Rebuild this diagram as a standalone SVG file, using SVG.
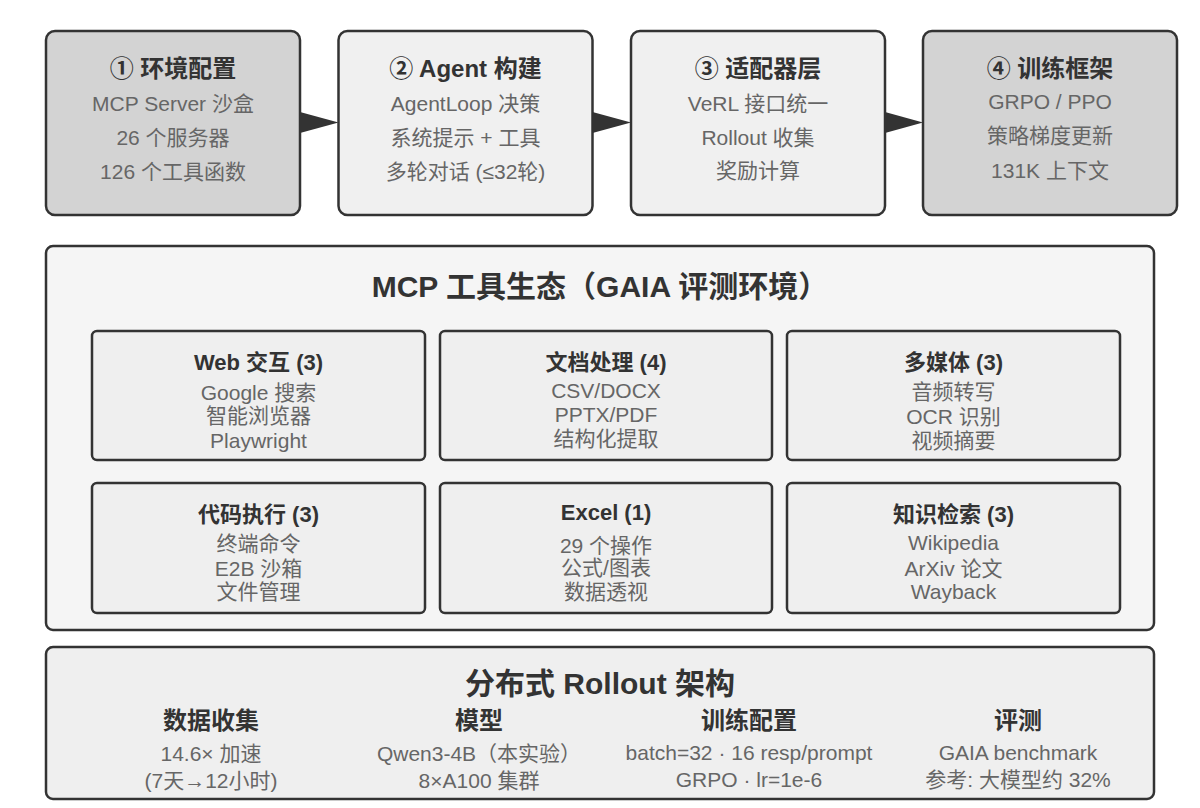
<svg xmlns="http://www.w3.org/2000/svg" width="1200" height="808" viewBox="0 0 1200 808">
<style>
text{font-family:"Liberation Sans","Noto Sans CJK SC",sans-serif;text-anchor:middle;dominant-baseline:central}
.t{font-size:24px;font-weight:bold;fill:#333}
.b{font-size:21px;fill:#666}
.st{font-size:22px;font-weight:bold;fill:#333}
.big{font-size:30px;font-weight:bold;fill:#333}
.hd{font-size:24px;font-weight:bold;fill:#333}
.step{stroke:#333;stroke-width:2.5}
.dark{fill:#d3d3d3}
.light{fill:#f0f0f0}
.cat{fill:#efefef;stroke:#333;stroke-width:2.5}
</style>
<rect width="1200" height="808" fill="#ffffff"/>
<g id="step1"><rect class="step dark" x="46" y="31" width="254" height="184" rx="9"/>
<text class="t" x="173" y="68">① 环境配置</text>
<text class="b" x="173" y="103">MCP Server 沙盒</text>
<text class="b" x="173" y="137">26 个服务器</text>
<text class="b" x="173" y="171">126 个工具函数</text></g>
<g id="step2"><rect class="step light" x="338.5" y="31" width="254" height="184" rx="9"/>
<text class="t" x="465.5" y="68">② Agent 构建</text>
<text class="b" x="465.5" y="103">AgentLoop 决策</text>
<text class="b" x="465.5" y="137">系统提示 + 工具</text>
<text class="b" x="465.5" y="171">多轮对话 (≤32轮)</text></g>
<g id="step3"><rect class="step light" x="631" y="31" width="254" height="184" rx="9"/>
<text class="t" x="758" y="68">③ 适配器层</text>
<text class="b" x="758" y="103">VeRL 接口统一</text>
<text class="b" x="758" y="137">Rollout 收集</text>
<text class="b" x="758" y="170">奖励计算</text></g>
<g id="step4"><rect class="step dark" x="923" y="31" width="254" height="184" rx="9"/>
<text class="t" x="1050" y="68">④ 训练框架</text>
<text class="b" x="1050" y="101">GRPO / PPO</text>
<text class="b" x="1050" y="135">策略梯度更新</text>
<text class="b" x="1050" y="170">131K 上下文</text></g>
<g id="connectors" fill="#333">
<path d="M300,112 L338.5,122.5 L300,133 Z"/>
<path d="M592.5,112 L631,122.5 L592.5,133 Z"/>
<path d="M885,112 L923,122.5 L885,133 Z"/>
</g>
<g id="ecosystem"><rect x="46" y="246" width="1108" height="384" rx="7" fill="#f5f5f5" stroke="#333" stroke-width="2.5"/>
<text class="big" x="600" y="286">MCP 工具生态（GAIA 评测环境）</text></g>
<g id="web"><rect class="cat" x="92" y="331" width="333" height="129" rx="5"/>
<text class="st" x="258.5" y="362">Web 交互 (3)</text>
<text class="b" x="258.5" y="392">Google 搜索</text>
<text class="b" x="258.5" y="415">智能浏览器</text>
<text class="b" x="258.5" y="440">Playwright</text></g>
<g id="doc"><rect class="cat" x="440" y="331" width="332" height="129" rx="5"/>
<text class="st" x="606" y="362">文档处理 (4)</text>
<text class="b" x="606" y="390">CSV/DOCX</text>
<text class="b" x="606" y="414">PPTX/PDF</text>
<text class="b" x="606" y="438">结构化提取</text></g>
<g id="media"><rect class="cat" x="787" y="331" width="333" height="129" rx="5"/>
<text class="st" x="953.5" y="362">多媒体 (3)</text>
<text class="b" x="953.5" y="391">音频转写</text>
<text class="b" x="953.5" y="416">OCR 识别</text>
<text class="b" x="953.5" y="440">视频摘要</text></g>
<g id="code"><rect class="cat" x="92" y="483" width="333" height="130" rx="5"/>
<text class="st" x="258.5" y="514">代码执行 (3)</text>
<text class="b" x="258.5" y="543">终端命令</text>
<text class="b" x="258.5" y="568">E2B 沙箱</text>
<text class="b" x="258.5" y="591">文件管理</text></g>
<g id="excel"><rect class="cat" x="440" y="483" width="332" height="130" rx="5"/>
<text class="st" x="606" y="512">Excel (1)</text>
<text class="b" x="606" y="545">29 个操作</text>
<text class="b" x="606" y="567">公式/图表</text>
<text class="b" x="606" y="591">数据透视</text></g>
<g id="knowledge"><rect class="cat" x="787" y="483" width="333" height="130" rx="5"/>
<text class="st" x="953.5" y="514">知识检索 (3)</text>
<text class="b" x="953.5" y="542">Wikipedia</text>
<text class="b" x="953.5" y="568">ArXiv 论文</text>
<text class="b" x="953.5" y="591">Wayback</text></g>
<g id="rollout"><rect x="46" y="647" width="1108" height="152" rx="7" fill="#efefef" stroke="#333" stroke-width="2.5"/>
<text class="big" x="600" y="683">分布式 Rollout 架构</text>
<text class="hd" x="211" y="720">数据收集</text>
<text class="b" x="211" y="753">14.6× 加速</text>
<text class="b" x="211" y="780">(7天→12小时)</text>
<text class="hd" x="479" y="720">模型</text>
<text class="b" x="479" y="753">Qwen3-4B（本实验）</text>
<text class="b" x="479" y="780">8×A100 集群</text>
<text class="hd" x="749" y="720">训练配置</text>
<text class="b" x="749" y="752">batch=32 · 16 resp/prompt</text>
<text class="b" x="749" y="779">GRPO · lr=1e-6</text>
<text class="hd" x="1018" y="720">评测</text>
<text class="b" x="1018" y="752">GAIA benchmark</text>
<text class="b" x="1018" y="779">参考: 大模型约 32%</text></g>
</svg>
